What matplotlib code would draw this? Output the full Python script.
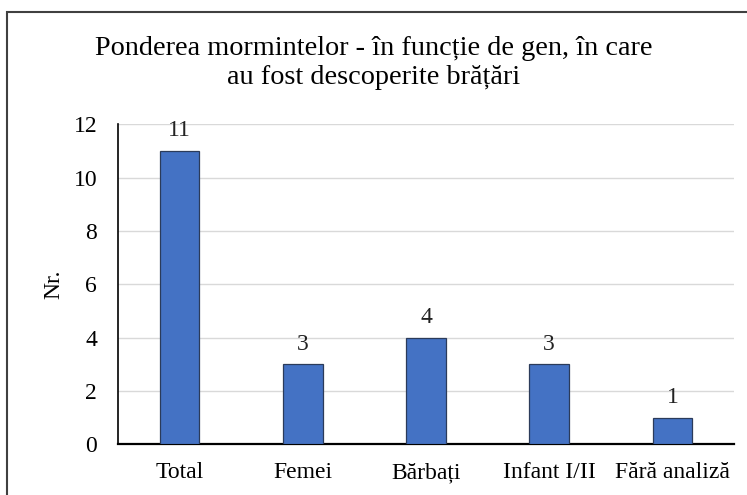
import matplotlib
matplotlib.use("Agg")
import matplotlib.pyplot as plt
from matplotlib.patches import Rectangle

categories = ["Total", "Femei", "Bărbați", "Infant I/II", "Fără analiză"]
values = [11, 3, 4, 3, 1]
yticks = [0, 2, 4, 6, 8, 10, 12]

plt.rcParams['font.family'] = ['Liberation Serif', 'DejaVu Serif']

fig = plt.figure(figsize=(7.47, 4.95), dpi=100)
ax = fig.add_axes([118/747, 1-444.3/495, (734-118)/747, (444.3-124.3)/495])

x = list(range(len(categories)))
bars = ax.bar(x, values, width=0.32, color="#4472C4", edgecolor="#2B3B5A", linewidth=0.9, zorder=3)
for xi, v in zip(x, values):
    ax.annotate(str(v), (xi, v), xytext=(0, 7), textcoords="offset points",
                ha="center", va="bottom", fontsize=17, color="#222222")

ax.set_xlim(-0.5, len(categories) - 0.5)
ax.set_ylim(0, 12)
ax.set_yticks(yticks)
ax.set_xticks(x)
ax.set_xticklabels(categories, fontsize=17)
ax.tick_params(axis='y', labelsize=17, length=0, pad=15)
ax.tick_params(axis='x', length=0, pad=13)
ax.yaxis.grid(True, color="#D9D9D9", linewidth=1, zorder=0)
ax.set_axisbelow(True)
for s in ["top", "right"]:
    ax.spines[s].set_visible(False)
ax.spines["left"].set_color("#000000")
ax.spines["bottom"].set_color("#000000")
ax.spines["left"].set_linewidth(1.2)
ax.spines["bottom"].set_linewidth(1.6)

ax.set_ylabel("Nr.", fontsize=17)
ax.yaxis.set_label_coords((64 - 118) / 616, 0.5)

fig.text(0.5, 1 - 63/495, "Ponderea mormintelor - în funcție de gen, în care\nau fost descoperite brățări",
         ha="center", va="center", fontsize=20.3, linespacing=1.25)

border = Rectangle((7/747, -0.1), 1.2, 1 - 11.5/495 + 0.1, transform=fig.transFigure,
                   fill=False, edgecolor="#404040", linewidth=1.5, clip_on=False)
fig.patches.append(border)

fig.savefig("out.png", dpi=100)
